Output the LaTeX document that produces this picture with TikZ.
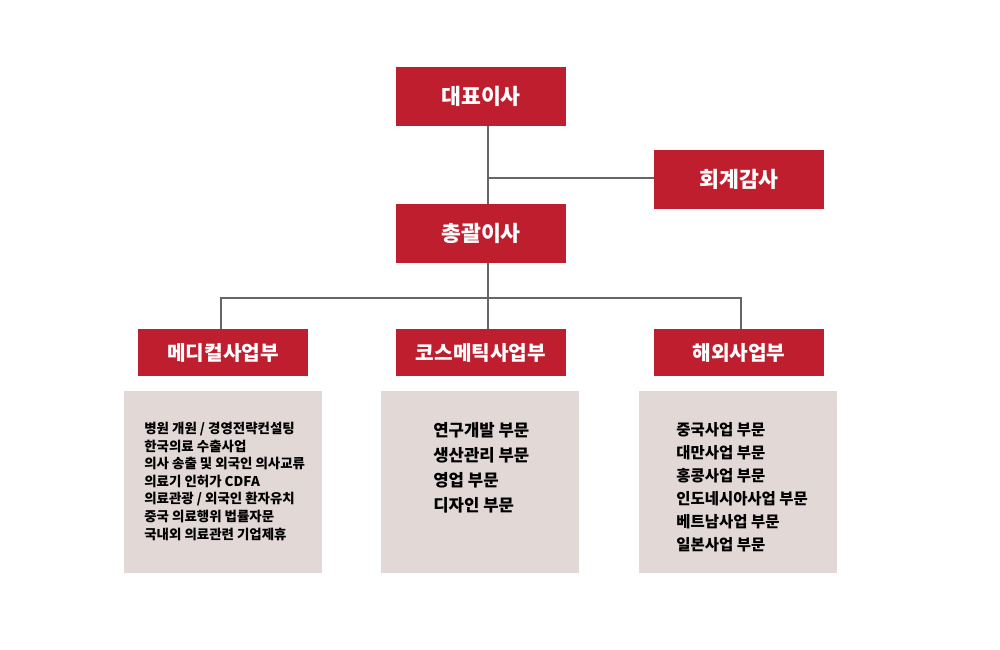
\documentclass[tikz,border=0pt]{standalone}
\usepackage{fontspec}
\setmainfont{Noto Sans CJK KR}
\definecolor{orgred}{HTML}{BE1E2D}
\definecolor{orggrey}{HTML}{E2D8D5}
\definecolor{orgline}{HTML}{666666}

\begin{document}
\begin{tikzpicture}
    \tikzset{
      headbox/.style={fill=orgred,text=white,minimum width=3.4cm,minimum height=1.18cm,
        font=\bfseries\fontsize{12.3}{14}\selectfont},
      divbox/.style={headbox,minimum height=0.94cm,font=\bfseries\fontsize{11.5}{13}\selectfont},
      listbox/.style={fill=orggrey,minimum width=3.96cm,minimum height=3.64cm},
      listtext/.style={anchor=north west,inner sep=0pt,align=left,text=black},
      orgedge/.style={orgline,line width=1.1pt}
    }
    \useasboundingbox (0,0) rectangle (20,13);

    % top of the chart
    \node[headbox] (ceo) at (9.62,11.07) {대표이사};
    \node[headbox] (audit) at (14.78,9.41) {회계감사};
    \node[headbox] (gm) at (9.62,8.33) {총괄이사};
    \coordinate (trunk) at (9.76,9.44);

    % divisions
    \node[divbox] (medical) at (4.46,5.95) {메디컬사업부};
    \node[divbox] (cosmetic) at (9.62,5.95) {코스메틱사업부};
    \node[divbox] (overseas) at (14.78,5.95) {해외사업부};
    \coordinate (bar) at (9.76,7.04);

    \node[listbox] (medlist) at (4.46,3.36) {};
    \node[listbox] (coslist) at (9.60,3.36) {};
    \node[listbox] (ovlist) at (14.76,3.36) {};

    \node[listtext,font=\bfseries\fontsize{7.65}{10}\selectfont] (medtext) at (2.88,4.56)
      {병원 개원 / 경영전략컨설팅\\한국의료 수출사업\\의사 송출 및 외국인 의사교류\\의료기 인허가 CDFA\\의료관광 / 외국인 환자유치\\중국 의료행위 법률자문\\국내외 의료관련 기업제휴};
    \node[listtext,font=\bfseries\fontsize{9.5}{14.2}\selectfont] (costext) at (8.66,4.55)
      {연구개발 부문\\생산관리 부문\\영업 부문\\디자인 부문};
    \node[listtext,font=\bfseries\fontsize{8.8}{13.1}\selectfont] (ovtext) at (13.52,4.55)
      {중국사업 부문\\대만사업 부문\\홍콩사업 부문\\인도네시아사업 부문\\베트남사업 부문\\일본사업 부문};

    % connectors
    \draw[orgedge] (ceo.south -| trunk) -- (gm.north -| trunk);
    \draw[orgedge] (trunk) -- (trunk -| audit.west);
    \draw[orgedge] (gm.south -| bar) -- (bar);
    \draw[orgedge] (medical.north -| 4.42,0) |- (bar) -| (overseas.north -| 14.82,0);
    \draw[orgedge] (bar) -- (cosmetic.north -| bar);
  \end{tikzpicture}
\end{document}
